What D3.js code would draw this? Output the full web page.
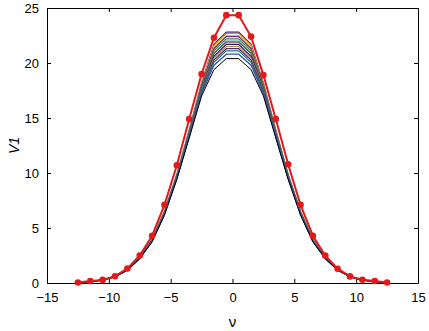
<!DOCTYPE html>
<html>
<head>
<meta charset="utf-8">
<script src="https://cdn.jsdelivr.net/npm/d3@7"></script>
<style>
  body { margin: 0; background: #fff; }
  svg text { font-family: "Liberation Sans", Arial, sans-serif; }
</style>
</head>
<body>
<div id="chart"></div>
<script>
var W = 429, H = 331;
var pad = {top: 8, bottom: 48, left: 47, right: 11};

// x positions of every sample
var nu = [-12.5,-11.5,-10.5,-9.5,-8.5,-7.5,-6.5,-5.5,-4.5,-3.5,-2.5,-1.5,-0.5,
           0.5,1.5,2.5,3.5,4.5,5.5,6.5,7.5,8.5,9.5,10.5,11.5,12.5];

// red curve with markers
var redV1 = [0.05,0.18,0.28,0.62,1.32,2.5,4.3,7.1,10.7,14.9,19.0,22.3,24.35,
             24.35,22.4,18.9,14.9,10.8,7.1,4.3,2.5,1.3,0.6,0.3,0.18,0.05];

// bundle of thin curves
var s1  = [0.05,0.15,0.27,0.6,1.22,2.32,3.95,6.5,9.85,13.9,18.2,21.7,22.8,22.8,21.7,18.2,13.9,9.85,6.5,3.95,2.32,1.22,0.6,0.27,0.15,0.05];
var s2  = [0.05,0.15,0.27,0.6,1.22,2.32,3.95,6.5,9.84,13.88,18.1,21.6,22.7,22.7,21.6,18.1,13.88,9.84,6.5,3.95,2.32,1.22,0.6,0.27,0.15,0.05];
var s3  = [0.05,0.15,0.27,0.6,1.21,2.31,3.93,6.46,9.8,13.8,18.1,21.4,22.5,22.5,21.4,18.1,13.8,9.8,6.46,3.93,2.31,1.21,0.6,0.27,0.15,0.05];
var s4  = [0.05,0.15,0.27,0.6,1.21,2.3,3.92,6.45,9.78,13.78,18.0,21.3,22.4,22.4,21.3,18.0,13.78,9.78,6.45,3.92,2.3,1.21,0.6,0.27,0.15,0.05];
var s5  = [0.05,0.15,0.27,0.6,1.21,2.3,3.9,6.42,9.75,13.7,17.9,21.1,22.2,22.2,21.1,17.9,13.7,9.75,6.42,3.9,2.3,1.21,0.6,0.27,0.15,0.05];
var s6  = [0.05,0.15,0.27,0.59,1.2,2.29,3.88,6.4,9.72,13.66,17.8,20.9,22.0,22.0,20.9,17.8,13.66,9.72,6.4,3.88,2.29,1.2,0.59,0.27,0.15,0.05];
var s7  = [0.05,0.15,0.27,0.59,1.2,2.28,3.87,6.38,9.7,13.62,17.76,20.85,21.9,21.9,20.85,17.76,13.62,9.7,6.38,3.87,2.28,1.2,0.59,0.27,0.15,0.05];
var s8  = [0.05,0.15,0.27,0.59,1.2,2.27,3.86,6.35,9.66,13.56,17.65,20.6,21.7,21.7,20.6,17.65,13.56,9.66,6.35,3.86,2.27,1.2,0.59,0.27,0.15,0.05];
var s9  = [0.05,0.14,0.26,0.59,1.19,2.27,3.84,6.33,9.62,13.5,17.55,20.45,21.5,21.5,20.45,17.55,13.5,9.62,6.33,3.84,2.27,1.19,0.59,0.26,0.14,0.05];
var s10 = [0.05,0.14,0.26,0.59,1.19,2.26,3.83,6.3,9.58,13.44,17.46,20.27,21.3,21.3,20.27,17.46,13.44,9.58,6.3,3.83,2.26,1.19,0.59,0.26,0.14,0.05];
var s11 = [0.05,0.14,0.26,0.58,1.18,2.25,3.81,6.27,9.55,13.38,17.35,20.07,21.1,21.1,20.07,17.35,13.38,9.55,6.27,3.81,2.25,1.18,0.58,0.26,0.14,0.05];
var s12 = [0.05,0.14,0.26,0.58,1.18,2.24,3.78,6.23,9.5,13.3,17.2,19.8,20.8,20.8,19.8,17.2,13.3,9.5,6.23,3.78,2.24,1.18,0.58,0.26,0.14,0.05];
var sK  = [0.05,0.14,0.26,0.58,1.17,2.22,3.75,6.18,9.42,13.18,17.0,19.4,20.4,20.4,19.4,17.0,13.18,9.42,6.18,3.75,2.22,1.17,0.58,0.26,0.14,0.05];

var bundle = [s1,s2,s3,s4,s5,s6,s7,s8,s9,s10,s11,s12];
var bundleColors = ["#23239a","#d98a20","#e0c020","#7b2a8a","#3d8a3a","#35a0d0",
                    "#8b4a2d","#1a1a80","#c09030","#4a2a90","#2a7a6a","#3050b0"];

var xTicks = [-15,-10,-5,0,5,10,15];
var yTicks = [0,5,10,15,20,25];

var svg = d3.select("#chart").append("svg")
            .attr("width", W).attr("height", H);

var x = d3.scaleLinear().domain([-15,15]).range([pad.left, W-pad.right]);
var y = d3.scaleLinear().domain([0,25]).range([H-pad.bottom, pad.top]);

//Axes: ticks inside, box all round
svg.append("g")
   .attr("transform","translate(0,"+(H-pad.bottom)+")")
   .call(d3.axisBottom(x).tickValues(xTicks).tickSizeInner(-4).tickSizeOuter(0).tickPadding(10));
svg.append("g")
   .attr("transform","translate(0,"+pad.top+")")
   .call(d3.axisTop(x).tickValues(xTicks).tickSizeInner(-4).tickSizeOuter(0).tickFormat(""));
svg.append("g")
   .attr("transform","translate("+pad.left+",0)")
   .call(d3.axisLeft(y).tickValues(yTicks).tickSizeInner(-4).tickSizeOuter(0).tickPadding(8));
svg.append("g")
   .attr("transform","translate("+(W-pad.right)+",0)")
   .call(d3.axisRight(y).tickValues(yTicks).tickSizeInner(-4).tickSizeOuter(0).tickFormat(""));

svg.selectAll(".domain").attr("stroke","#000").attr("stroke-width",1);
svg.selectAll(".tick line").attr("stroke","#000");
svg.selectAll(".tick text").attr("font-size","13px").attr("fill","#000")
   .attr("font-family","'Liberation Sans', Arial, sans-serif");

var line = d3.line().x(function(d,i){return x(nu[i]);}).y(function(d){return y(d);});

//Thin curves
svg.append("g").attr("class","bundle")
   .selectAll("path")
   .data(bundle)
   .enter()
   .append("path")
   .attr("d", line)
   .attr("fill","none")
   .attr("stroke", function(d,i){return bundleColors[i % bundleColors.length];})
   .attr("stroke-width",1.2);

svg.append("path")
   .attr("d", line(sK))
   .attr("fill","none")
   .attr("stroke","#000")
   .attr("stroke-width",1);

//Red curve with markers
svg.append("path")
   .attr("d", line(redV1))
   .attr("fill","none")
   .attr("stroke","#e41a1a")
   .attr("stroke-width",2);
svg.append("g").selectAll("circle")
   .data(redV1)
   .enter()
   .append("circle")
   .attr("cx", function(d,i){return x(nu[i]);})
   .attr("cy", function(d){return y(d);})
   .attr("r",3.3)
   .attr("fill","#e41a1a");

//Axis labels
svg.append("text")
   .attr("x", x(0))
   .attr("y", 321)
   .attr("text-anchor","middle")
   .attr("dominant-baseline","central")
   .attr("font-size","15px")
   .text("ν");
svg.append("text")
   .attr("transform","translate(14,"+((H-pad.bottom+pad.top)/2)+")rotate(-90)")
   .attr("text-anchor","middle")
   .attr("dominant-baseline","central")
   .attr("font-size","14px")
   .attr("font-style","italic")
   .text("V1");
</script>
</body>
</html>
